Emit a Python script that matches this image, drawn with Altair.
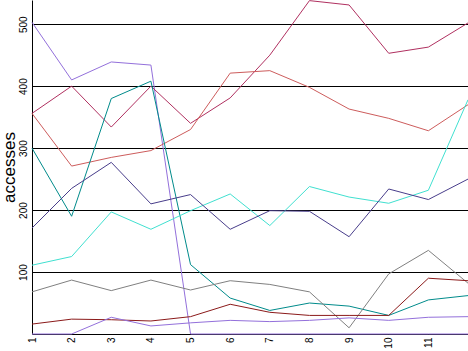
import altair as alt
import pandas as pd

x_vals = list(range(1, 13))
series_names = ["purple_hi", "crimson", "salmon", "teal", "turquoise", "slate", "gray", "darkred", "purple_lo"]
series_colors = ["#9370DB", "#B03060", "#CD5C5C", "#008B8B", "#40E0D0", "#483D8B", "#808080", "#8B1A1A", "#9370DB"]

purple_hi = [503, 410, 439, 434, 0, 0, 0, 0, 0, 0, 0, 0]
crimson = [356, 400, 334, 400, 340, 381, 450, 538, 531, 453, 463, 502]
salmon = [356, 271, 285, 296, 330, 421, 425, 398, 363, 348, 328, 370]
teal = [300, 190, 380, 408, 112, 58, 38, 50, 45, 30, 55, 62]
turquoise = [111, 125, 197, 169, 199, 226, 175, 238, 221, 211, 232, 378]
slate = [171, 235, 277, 210, 225, 169, 199, 198, 157, 234, 217, 250]
gray = [68, 87, 70, 87, 71, 86, 80, 68, 10, 97, 135, 82]
darkred = [16, 24, 23, 21, 28, 48, 35, 30, 30, 30, 90, 86]
purple_lo = [0, 0, 27, 13, 18, 22, 20, 22, 26, 22, 27, 28]

x_ticks = list(range(1, 12))
y_ticks = [100, 200, 300, 400, 500]

all_series = [purple_hi, crimson, salmon, teal, turquoise, slate, gray, darkred, purple_lo]
rows = []
for name, vals in zip(series_names, all_series):
    for x, v in zip(x_vals, vals):
        rows.append({"x": x, "v": v, "s": name})
df = pd.DataFrame(rows)

chart = alt.Chart(df).mark_line(strokeWidth=1, interpolate="linear").encode(
    x=alt.X("x:Q", scale=alt.Scale(domain=[1, 12], nice=False, zero=False),
            axis=alt.Axis(values=x_ticks, labelAngle=-90, ticks=False, grid=False, title=None,
                          domainColor="black", labelColor="black", labelFontSize=10,
                          labelFont="Liberation Sans", labelPadding=3, labelFlush=False)),
    y=alt.Y("v:Q", scale=alt.Scale(domain=[0, 539], nice=False),
            axis=alt.Axis(values=y_ticks, labelAngle=-90, ticks=False, grid=True,
                          gridColor="black", gridOpacity=1, gridWidth=1,
                          domainColor="black", labelColor="black", labelFontSize=10,
                          labelFont="Liberation Sans", labelPadding=4,
                          title="accesses", titleFont="Liberation Sans", titleFontSize=17,
                          titleFontWeight="normal", titleColor="black",
                          titleX=-23, titleY=167, titleAlign="center", titleBaseline="middle",
                          titleAngle=270)),
    color=alt.Color("s:N", scale=alt.Scale(domain=series_names, range=series_colors), legend=None),
    detail="s:N",
).properties(
    width=436, height=334,
    padding={"left": 32, "top": 0, "right": 0, "bottom": 17},
    autosize=alt.AutoSizeParams(type="none"),
    background="white",
).configure_view(stroke=None)

chart.save("out.html", embed_options={"renderer": "svg", "actions": False})
